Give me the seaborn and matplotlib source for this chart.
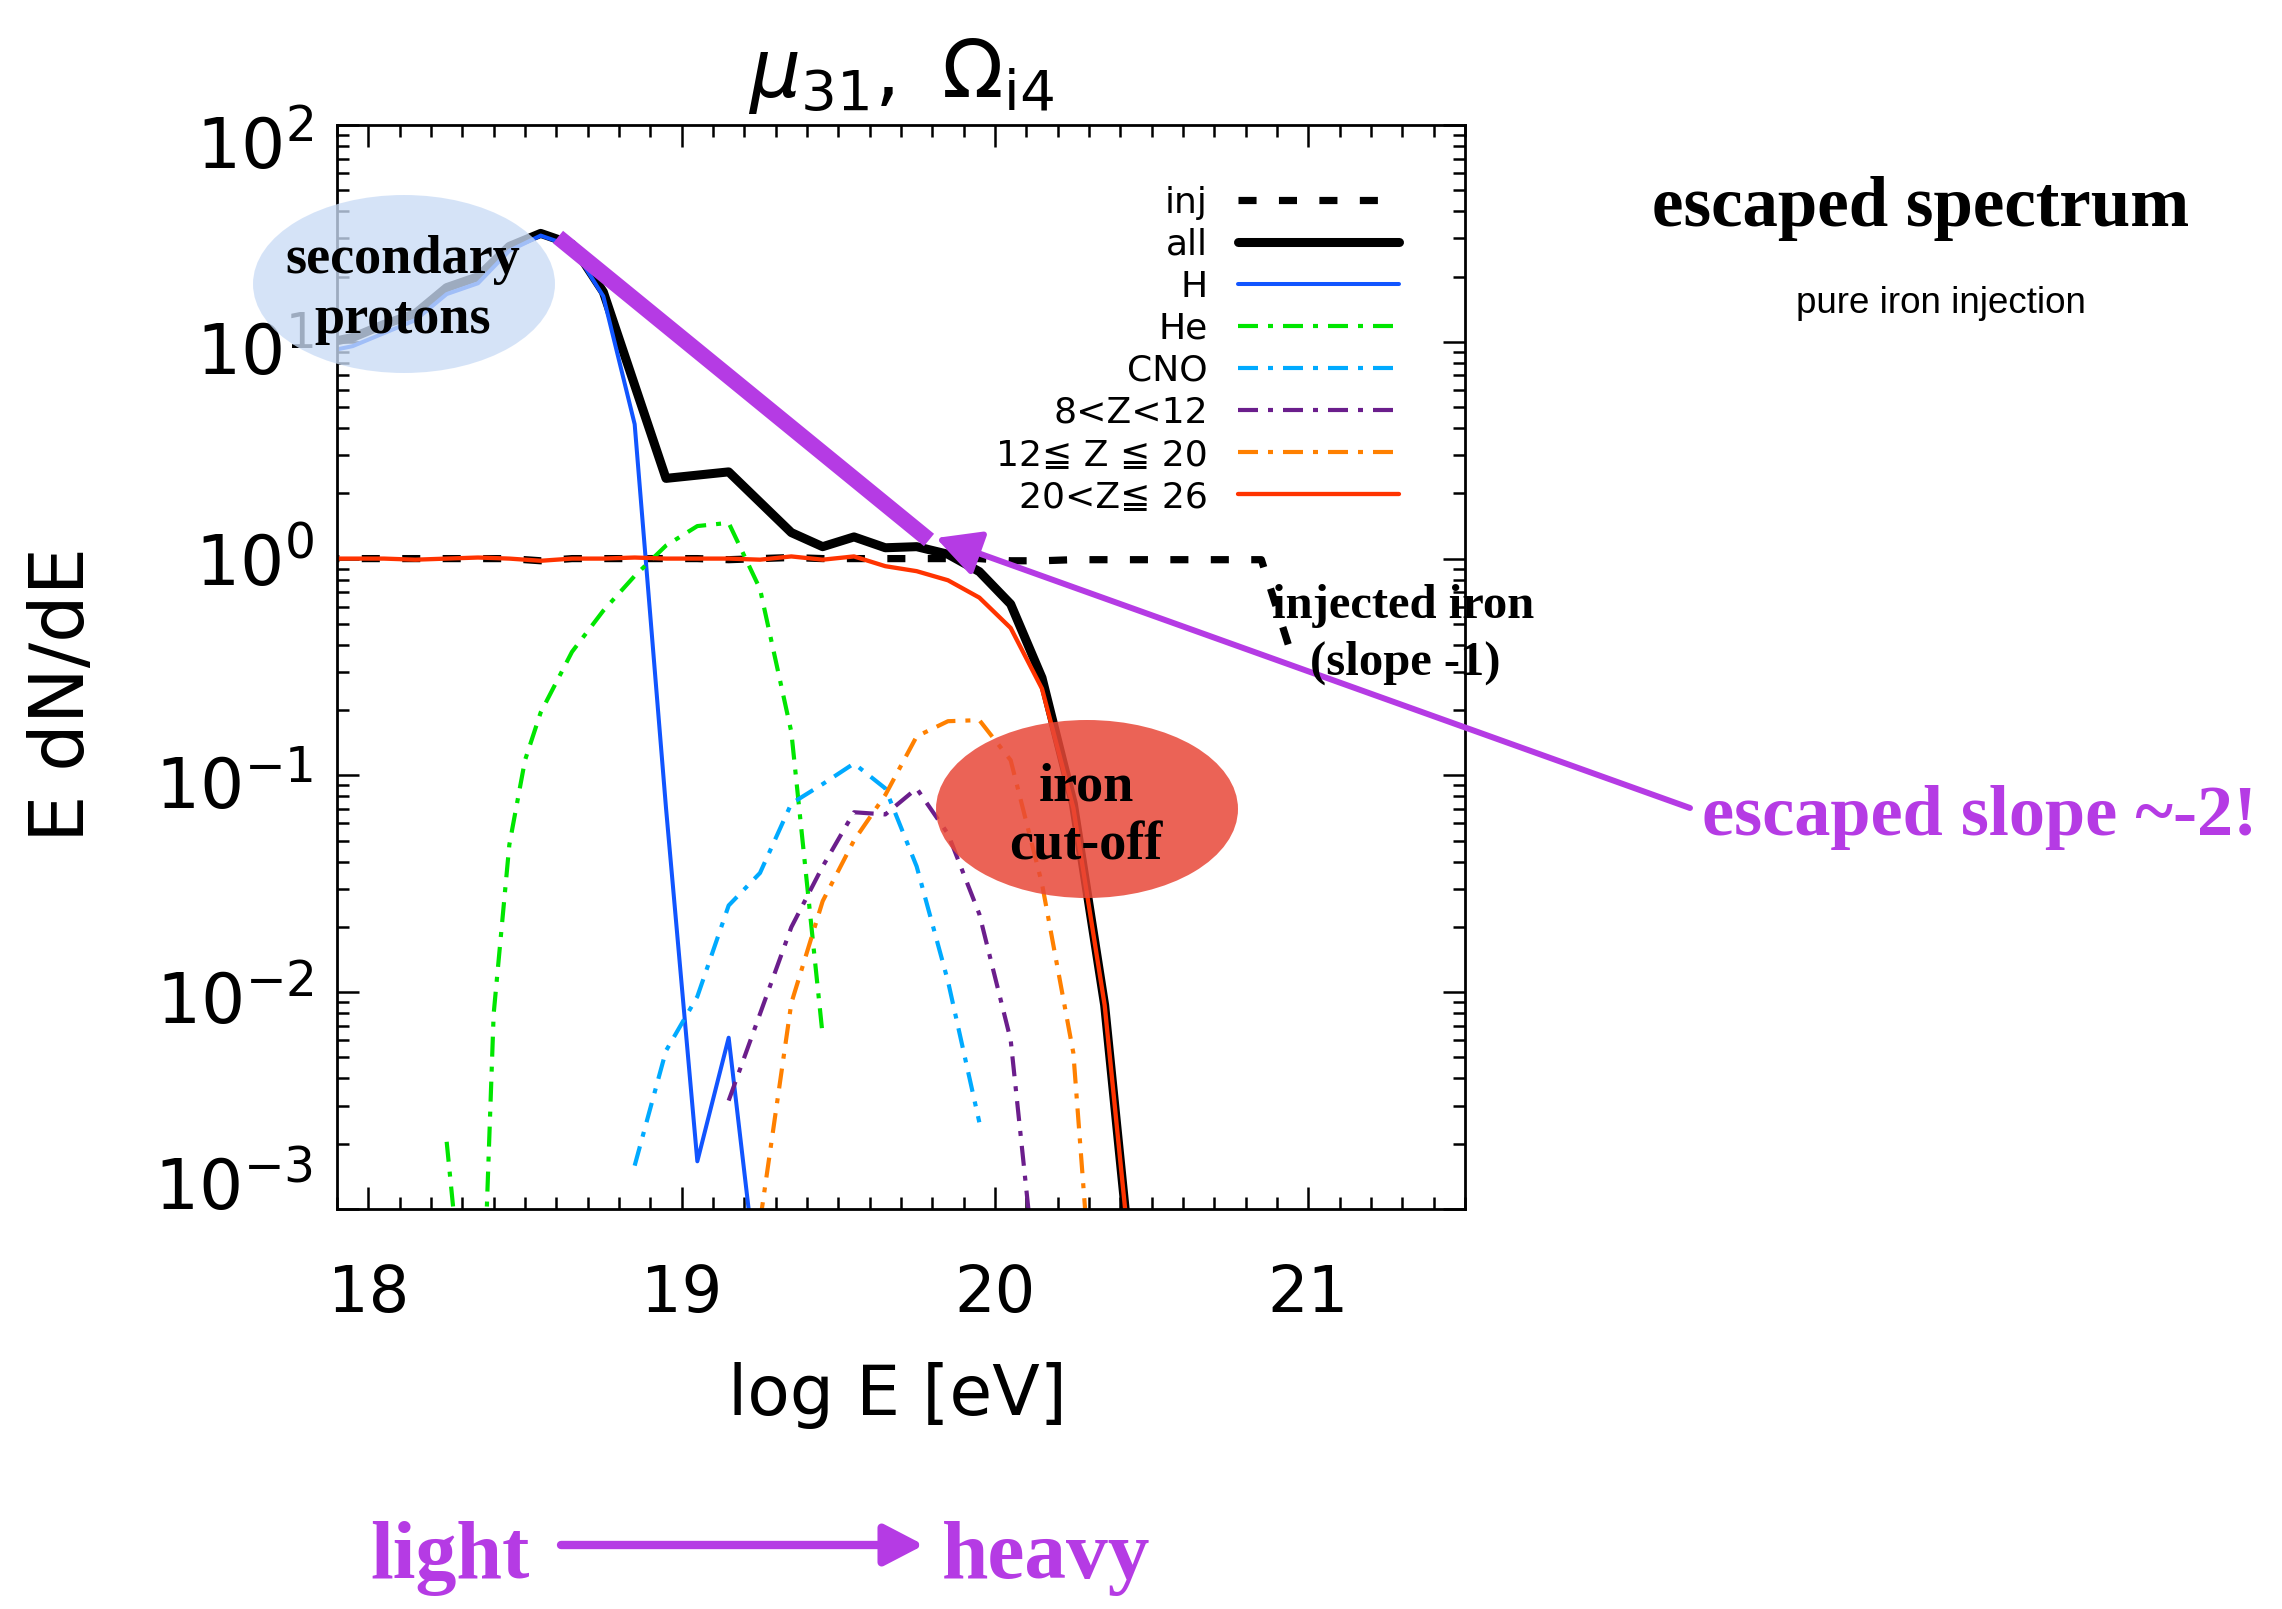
import numpy as np
import matplotlib
matplotlib.use("Agg")
import matplotlib.pyplot as plt
import matplotlib.transforms as mtransforms
import seaborn as sns
from matplotlib.patches import Ellipse, FancyArrowPatch
from matplotlib.lines import Line2D
from matplotlib.ticker import LogLocator, NullFormatter, MultipleLocator, FixedLocator

# ---------------- data: log10(E/eV) and log10(E dN/dE)
grid = [17.85, 17.95, 18.05, 18.15, 18.25, 18.35, 18.45, 18.55, 18.65, 18.75,
        18.85, 18.95, 19.05, 19.15, 19.25, 19.35, 19.45, 19.55, 19.65, 19.75,
        19.85, 19.95, 20.05, 20.15, 20.25, 20.35, 20.45]

inj_logE = grid + [20.55, 20.65, 20.75, 20.85, 20.95]
inj_lg = [0.0, 0.0, 0.0, 0.0, 0.0, 0.0, 0.0, -0.01, 0.0, 0.0,
          0.0, 0.0, 0.0, -0.005, 0.0, 0.005, 0.0, 0.0, 0.0, 0.0,
          0.0, 0.0, -0.01, -0.01, -0.005, -0.005, -0.005, -0.005, -0.005, -0.005,
          -0.005, -0.46]

all_logE = grid
all_lg = [0.99, 1.02, 1.08, 1.13, 1.25, 1.30, 1.44, 1.50, 1.45, 1.23,
          0.80, 0.37, 0.385, 0.40, 0.26, 0.12, 0.055, 0.10, 0.05, 0.055,
          0.02, -0.06, -0.21, -0.55, -1.13, -2.06, -3.5]

h_logE = [17.85, 17.95, 18.05, 18.15, 18.25, 18.35, 18.45, 18.55, 18.65, 18.75,
          18.85, 18.95, 19.05, 19.15, 19.25]
h_lg = [0.95, 0.98, 1.04, 1.10, 1.22, 1.27, 1.42, 1.49, 1.44, 1.21,
        0.62, -1.15, -2.78, -2.21, -3.45]

he_logE = [18.25, 18.35, 18.40, 18.45, 18.50, 18.55, 18.65, 18.75, 18.85, 18.95,
           19.05, 19.15, 19.25, 19.35, 19.45]
he_lg = [-2.69, -4.15, -2.10, -1.32, -0.93, -0.71, -0.43, -0.24, -0.08, 0.06,
         0.15, 0.165, -0.14, -0.80, -2.20]

cno_logE = [18.85, 18.95, 19.05, 19.15, 19.25, 19.35, 19.45, 19.55, 19.65, 19.75,
            19.85, 19.95]
cno_lg = [-2.80, -2.27, -2.02, -1.60, -1.45, -1.13, -1.04, -0.945, -1.06, -1.42,
          -1.95, -2.60]

z812_logE = [19.15, 19.25, 19.35, 19.45, 19.55, 19.65, 19.75, 19.85, 19.95, 20.05, 20.15]
z812_lg = [-2.50, -2.10, -1.70, -1.42, -1.17, -1.18, -1.06, -1.27, -1.64, -2.22, -3.6]

z1220_logE = [19.25, 19.35, 19.45, 19.55, 19.65, 19.75, 19.85, 19.95, 20.05, 20.15,
              20.25, 20.35]
z1220_lg = [-3.06, -2.05, -1.58, -1.30, -1.09, -0.82, -0.75, -0.745, -0.93, -1.50,
            -2.28, -4.2]

z2026_logE = grid
z2026_lg = [0.0, 0.0, 0.0, -0.005, 0.0, 0.005, 0.0, -0.01, 0.0, 0.0,
            0.005, 0.0, 0.0, 0.0, -0.005, 0.01, -0.005, 0.01, -0.035, -0.058,
            -0.10, -0.18, -0.32, -0.60, -1.15, -2.06, -3.5]

labels = ["inj", "all", "H", "He", "CNO", "8<Z<12", "12≦ Z ≦ 20", "20<Z≦ 26"]
xs = [inj_logE, all_logE, h_logE, he_logE, cno_logE, z812_logE, z1220_logE, z2026_logE]
ys = [inj_lg, all_lg, h_lg, he_lg, cno_lg, z812_lg, z1220_lg, z2026_lg]

colors = ["black", "black", "#1155FF", "#00E600", "#00AAFF", "#6B1E8C", "#FF8000", "#FF3300"]
dashdot = (0, (4.8, 2.4, 1.2, 2.4))
styles = [(0, (2.5, 3.1)), "-", "-", dashdot, dashdot, dashdot, dashdot, "-"]
widths = [5.2, 6.5, 2.9, 3.0, 3.0, 3.0, 3.0, 3.1]

# ---------------- figure
sns.set_style("ticks")
plt.rcParams["font.family"] = ["DejaVu Sans", "Noto Sans CJK JP"]
plt.rcParams["mathtext.fontset"] = "dejavusans"
for key in ["text.color", "axes.labelcolor", "xtick.color", "ytick.color", "axes.edgecolor"]:
    plt.rcParams[key] = "black"

W, H = 2282, 1609
fig = plt.figure(figsize=(W / 100, H / 100), dpi=100)
fig.patch.set_facecolor("white")
ax = fig.add_axes([337 / W, 1 - 1209 / H, 1128 / W, 1084 / H])
ax.set_facecolor("white")
ax.set_yscale("log")

for lab, x, y, c, ls, lw in zip(labels, xs, ys, colors, styles, widths):
    sns.lineplot(x=np.array(x), y=10.0 ** np.array(y), ax=ax, color=c, linestyle=ls,
                 linewidth=lw, estimator=None, sort=False, label=lab)

ax.set_xlim(17.9, 21.5)
ax.set_ylim(1e-3, 1e2)

ax.xaxis.set_major_locator(FixedLocator([18, 19, 20, 21]))
ax.xaxis.set_minor_locator(MultipleLocator(0.1))
ax.yaxis.set_major_locator(FixedLocator([1e-3, 1e-2, 1e-1, 1e0, 1e1, 1e2]))
ax.yaxis.set_minor_locator(LogLocator(base=10, subs=np.arange(2, 10) * 1.0, numticks=100))
ax.yaxis.set_minor_formatter(NullFormatter())

for s in ax.spines.values():
    s.set_linewidth(2.0)
    s.set_color("black")
ax.tick_params(which="both", direction="in", top=True, right=True, width=1.8,
               color="black", labelcolor="black")
ax.tick_params(which="major", length=16)
ax.tick_params(which="minor", length=8.5)
ax.tick_params(axis="x", which="major", labelsize=46, pad=39)
ax.tick_params(axis="y", which="major", labelsize=50, pad=17)

ax.set_xlabel("log E [eV]", fontsize=50, color="black")
ax.xaxis.set_label_coords(0.497, -0.141)
ax.set_ylabel("E dN/dE", fontsize=54, color="black")
ax.yaxis.set_label_coords(-0.21, 0.475)
ax.set_title(r"$\mu_{31},\ \Omega_{\mathrm{i4}}$", fontsize=58, pad=20, color="black")

handles = ax.get_lines()
leg = ax.legend(handles=handles, labels=labels, loc="upper right",
                bbox_to_anchor=(1399 / W, 1 - 186 / H), bbox_transform=fig.transFigure,
                frameon=False, markerfirst=False, fontsize=26, handlelength=4.46,
                handletextpad=0.83, labelspacing=0.22, borderpad=0, borderaxespad=0)
for t in leg.get_texts():
    t.set_color("black")

# the end labels of the y axis sit inside the axis range, as in the original
fig.canvas.draw()
label_shift = {1e2: -17, 1e1: -6, 1e-1: -6, 1e-2: -5, 1e-3: 26}
for tick in ax.yaxis.get_major_ticks():
    loc = tick.get_loc()
    for key, dy in label_shift.items():
        if np.isclose(loc, key):
            tick.label1.set_transform(tick.label1.get_transform()
                                      + mtransforms.ScaledTranslation(0, dy / 100, fig.dpi_scale_trans))


def fx(x):
    return x / W


def fy(y):
    return 1 - y / H


PURPLE = "#B53BE4"
SERIF = "Liberation Serif"

# annotation ellipses
fig.add_artist(Ellipse((fx(404), fy(284)), 302 / W, 178 / H, transform=fig.transFigure,
                       facecolor="#CADCF6", alpha=0.78, edgecolor="none", zorder=10))
fig.add_artist(Ellipse((fx(1087), fy(809)), 302 / W, 178 / H, transform=fig.transFigure,
                       facecolor="#E84838", alpha=0.85, edgecolor="none", zorder=10))

# thick slope bar
fig.add_artist(Line2D([fx(558), fx(929)], [fy(237), fy(540)], transform=fig.transFigure,
                      color=PURPLE, lw=11.5, solid_capstyle="butt", zorder=11))
# thin arrow from label to bar
fig.add_artist(FancyArrowPatch((fx(1690), fy(808)), (fx(936), fy(538)),
                               transform=fig.transFigure,
                               arrowstyle="-|>,head_length=27,head_width=14",
                               mutation_scale=1, lw=4.3, color=PURPLE,
                               shrinkA=0, shrinkB=0, zorder=11))
# light -> heavy arrow
fig.add_artist(FancyArrowPatch((fx(561), fy(1545)), (fx(924), fy(1545)),
                               transform=fig.transFigure,
                               arrowstyle="-|>,head_length=24,head_width=12.5",
                               mutation_scale=1, lw=6, color=PURPLE,
                               shrinkA=0, shrinkB=0, zorder=11))


def ftext(x, y, s, **kw):
    kw.setdefault("zorder", 12)
    kw.setdefault("color", "black")
    fig.text(fx(x), fy(y), s, **kw)


ftext(403, 273, "secondary", ha="center", va="baseline", family=SERIF, weight="bold", fontsize=39)
ftext(403, 333, "protons", ha="center", va="baseline", family=SERIF, weight="bold", fontsize=39)
ftext(1086, 800, "iron", ha="center", va="baseline", family=SERIF, weight="bold", fontsize=39)
ftext(1086, 860, "cut-off", ha="center", va="baseline", family=SERIF, weight="bold", fontsize=39)
ftext(1403, 618, "injected iron", ha="center", va="baseline", family=SERIF, weight="bold", fontsize=35)
ftext(1405, 675, "(slope -1)", ha="center", va="baseline", family=SERIF, weight="bold", fontsize=35)
ftext(1702, 835, "escaped slope ~-2!", ha="left", va="baseline", family=SERIF, weight="bold",
      fontsize=52, color=PURPLE)
ftext(1652, 226, "escaped spectrum", ha="left", va="baseline", family=SERIF, weight="bold", fontsize=51)
ftext(1796, 313, "pure iron injection", ha="left", va="baseline", family="Liberation Sans", fontsize=26.5)
ftext(370, 1578, "light", ha="left", va="baseline", family=SERIF, weight="bold", fontsize=59, color=PURPLE)
ftext(942, 1578, "heavy", ha="left", va="baseline", family=SERIF, weight="bold", fontsize=60, color=PURPLE)

fig.savefig("out.png", dpi=100, facecolor="white")
